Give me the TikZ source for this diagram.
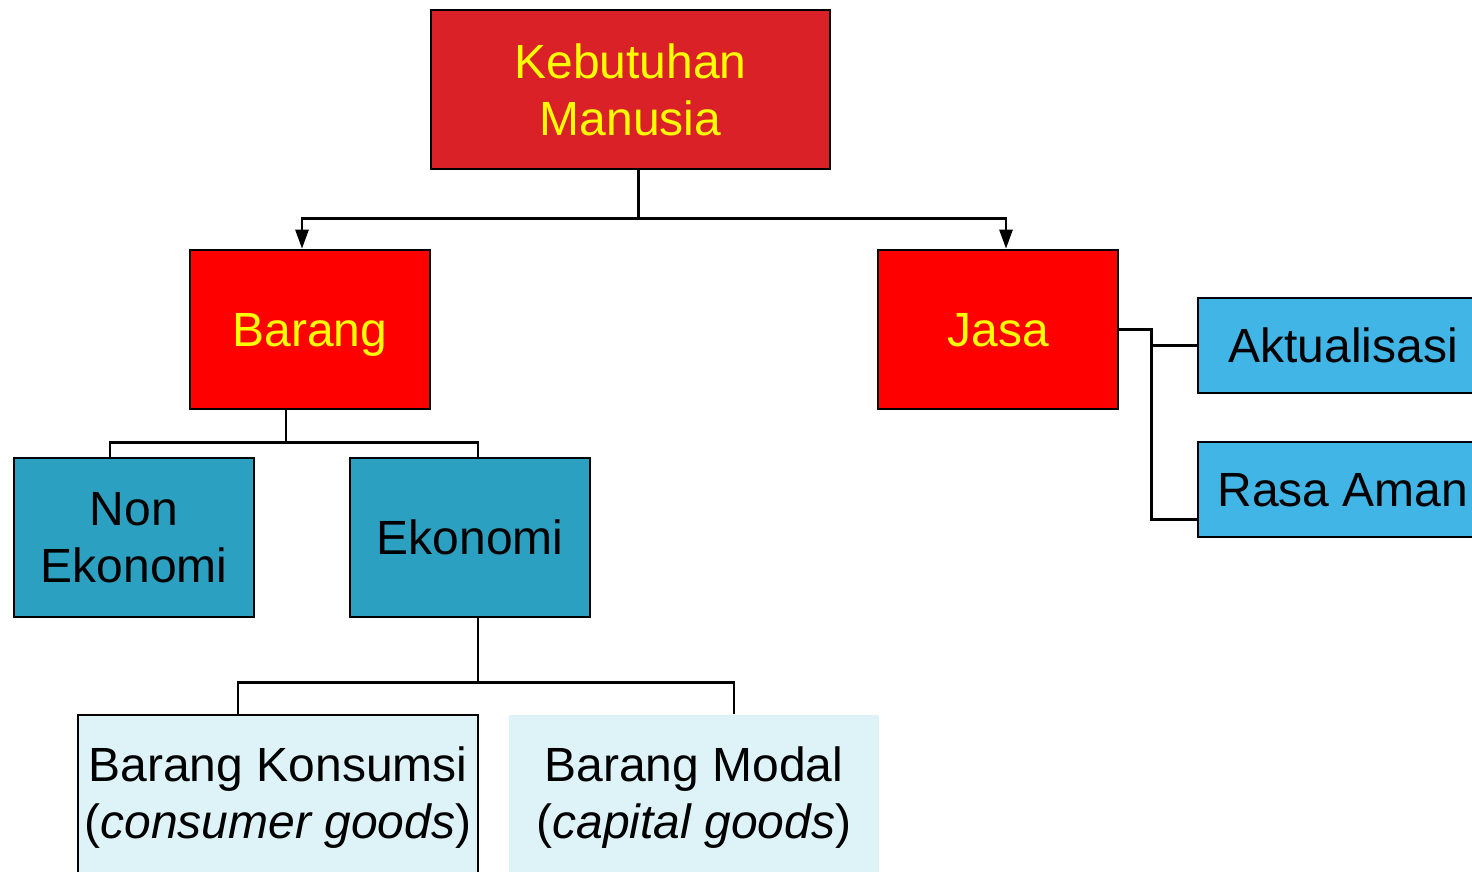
\documentclass[tikz,border=0pt]{standalone}
\usepackage{fontspec}
\setmainfont{Liberation Sans}
\usetikzlibrary{arrows.meta}
\definecolor{dred}{HTML}{DA2128}
\definecolor{bred}{HTML}{FF0000}
\definecolor{txtyel}{HTML}{FFFF00}
\definecolor{teal}{HTML}{2CA0C0}
\definecolor{lblue}{HTML}{41B6E6}
\definecolor{pale}{HTML}{DDF3F8}
\begin{document}
\begin{tikzpicture}[x=1pt,y=-1pt,
  box/.style={draw=black, line width=2.6pt, inner sep=0pt, align=center,
    font=\fontsize{48}{57}\selectfont},
  oneline/.style={text height=34pt, text depth=0pt},
  redbox/.style={box, fill=bred, text=txtyel, minimum width=240pt, minimum height=159pt},
  tealbox/.style={box, fill=teal, text=black, minimum width=240pt, minimum height=159pt},
  bluebox/.style={box, fill=lblue, text=black, minimum width=290pt, minimum height=95pt},
  palebox/.style={box, fill=pale, text=black, minimum height=166pt},
  conn/.style={draw=black, line width=2.6pt},
  arr/.style={conn, -{Triangle[length=19pt,width=13pt]}}]
\useasboundingbox (0,0) rectangle (1472,871);
\clip (0,0) rectangle (1472,871);

\node[box, fill=dred, text=txtyel, minimum width=399pt, minimum height=159pt] (keb) at (630.5,89.5) {Kebutuhan\\Manusia};
\node[redbox, oneline] (bar) at (310,329.5) {Barang};
\node[redbox, oneline] (jasa) at (998,329.5) {Jasa};
\node[bluebox, oneline] (akt) at (1343,345.5) {Aktualisasi};
\node[bluebox, oneline] (rasa) at (1343,489.5) {Rasa Aman};
\node[tealbox] (non) at (134,537.5) {Non\\Ekonomi};
\node[tealbox, oneline] (eko) at (470,537.5) {Ekonomi};
\node[palebox, minimum width=400pt] (kons) at (278,798) {Barang Konsumsi\\(\textit{consumer goods})};
\node[palebox, draw=none, minimum width=370pt] (mod) at (694,798) {Barang Modal\\(\textit{capital goods})};

% Kebutuhan -> Barang / Jasa
\coordinate (kx) at ([xshift=8pt,yshift=-48pt]keb.south);
\draw[conn] ([xshift=8pt]keb.south) -- (kx);
\draw[arr] (kx) -| ([xshift=-8pt]bar.north);
\draw[arr] (kx) -| ([xshift=8pt]jasa.north);

% Barang -> Non Ekonomi / Ekonomi
\coordinate (bx) at ([xshift=-24pt,yshift=-32pt]bar.south);
\draw[conn] ([xshift=-24pt]bar.south) -- (bx);
\draw[conn] (bx) -| ([xshift=-24pt]non.north);
\draw[conn] (bx) -| ([xshift=8pt]eko.north);

% Ekonomi -> Konsumsi / Modal
\coordinate (ex) at ([xshift=8pt,yshift=-64pt]eko.south);
\draw[conn] ([xshift=8pt]eko.south) -- (ex);
\draw[conn] (ex) -| ([xshift=-40pt]kons.north);
\draw[conn] (ex) -| ([xshift=40pt]mod.north);

% Jasa -> Aktualisasi / Rasa Aman
\coordinate (jx) at ([xshift=32pt]jasa.east);
\draw[conn] (jasa.east) -- (jx) |- ([yshift=-30pt]rasa.west);
\draw[conn] (jx |- akt.west) -- (akt.west);
\end{tikzpicture}
\end{document}
